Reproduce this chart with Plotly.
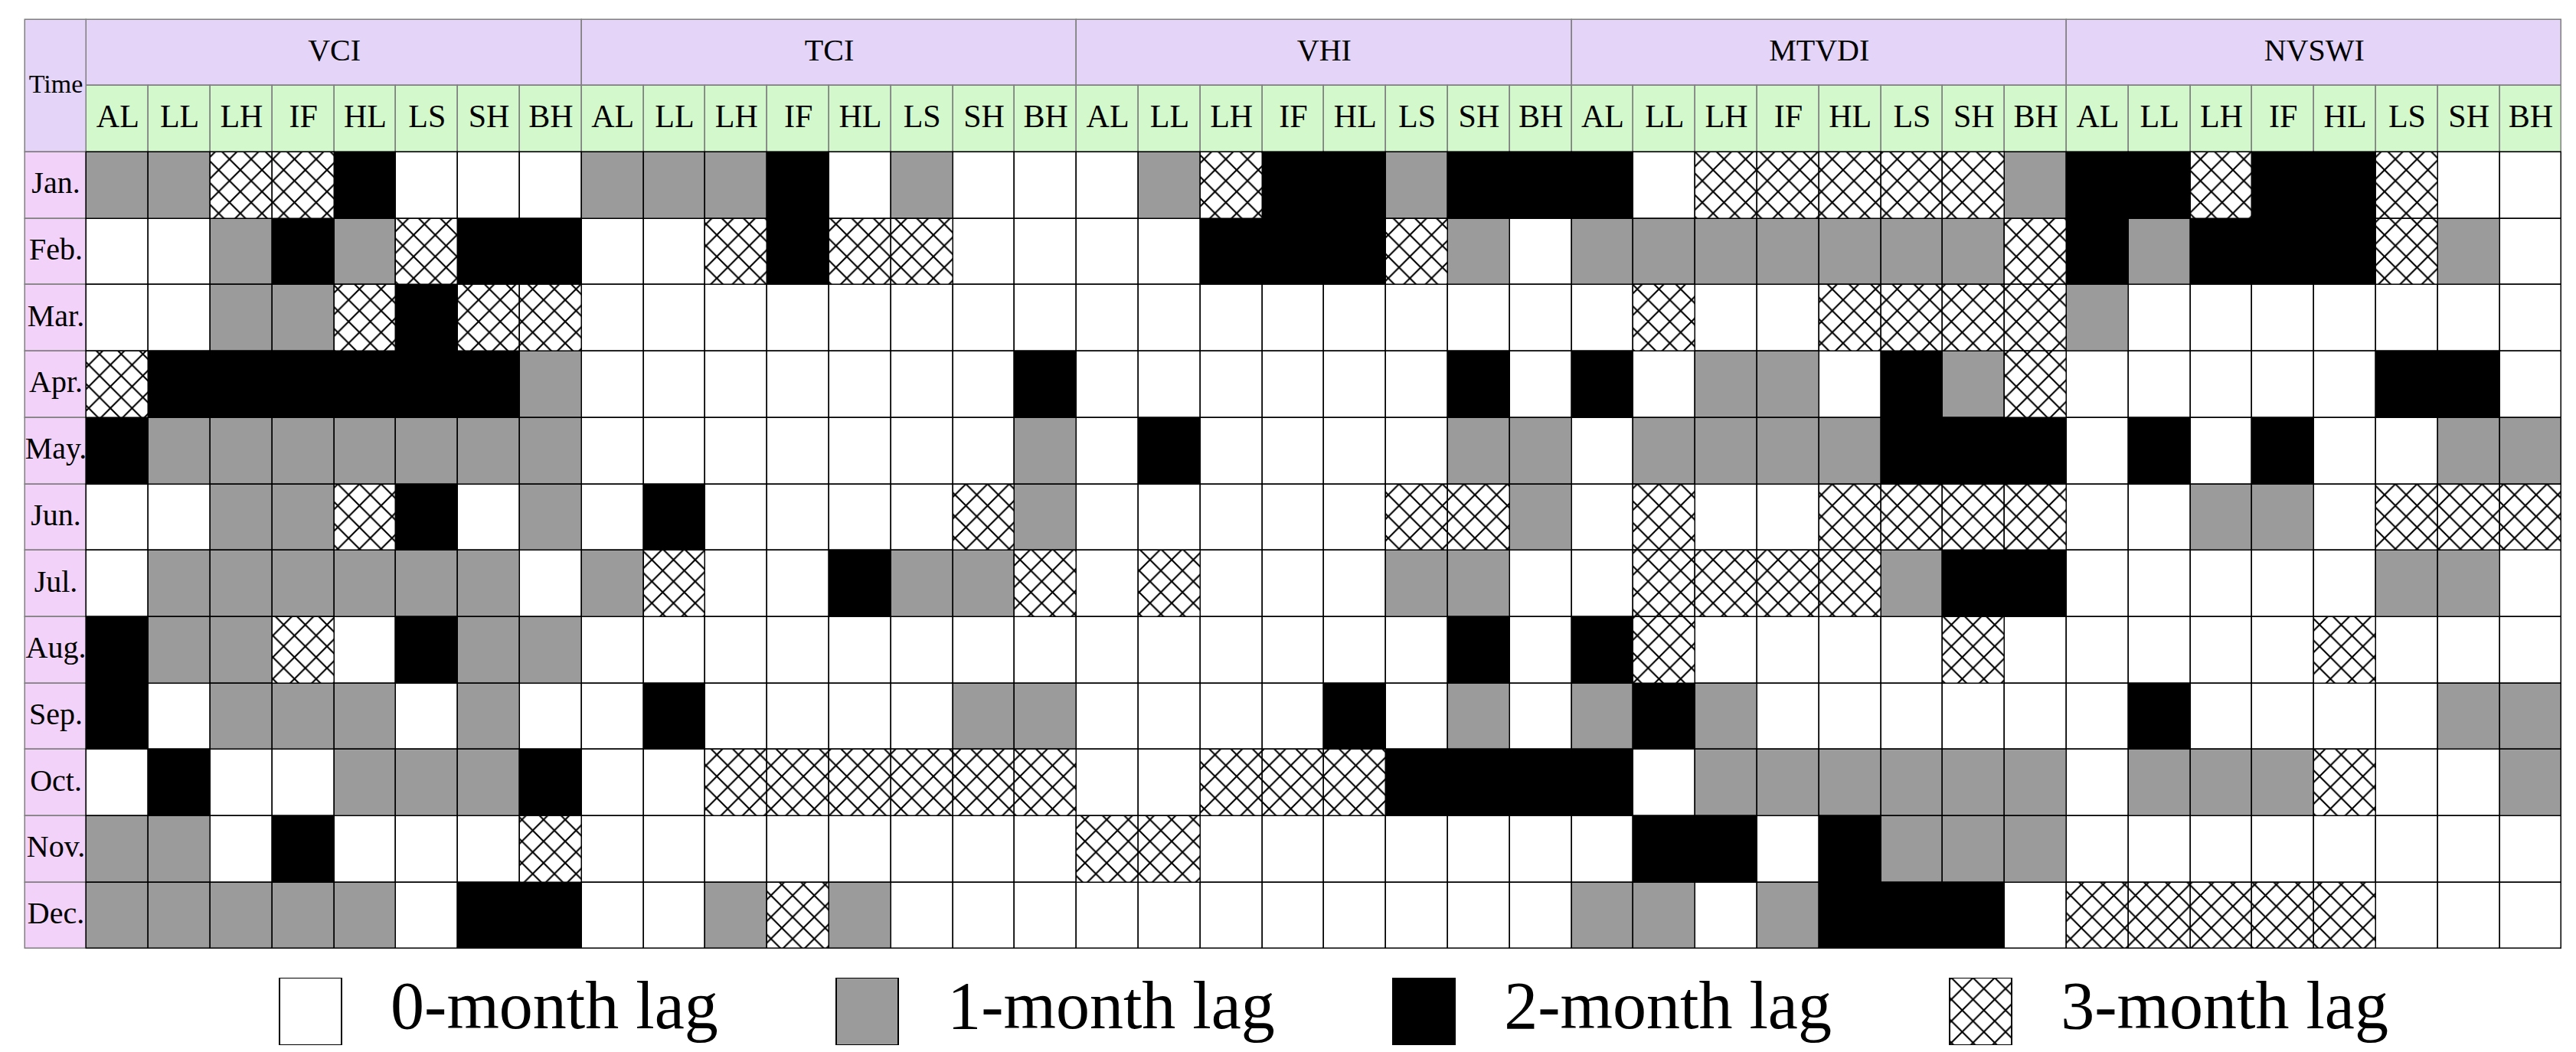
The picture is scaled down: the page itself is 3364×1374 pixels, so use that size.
import plotly.graph_objects as go

# ── Data ─────────────────────────────────────────────────────────
MONTHS = ["Jan.", "Feb.", "Mar.", "Apr.", "May.", "Jun.",
          "Jul.", "Aug.", "Sep.", "Oct.", "Nov.", "Dec."]
REGIONS = ["AL", "LL", "LH", "IF", "HL", "LS", "SH", "BH"]
INDICES = ["VCI", "TCI", "VHI", "MTVDI", "NVSWI"]
LAG_LABELS = ["0-month lag", "1-month lag", "2-month lag", "3-month lag"]

# lag (months) per month row x region column
VCI = [
    [1, 1, 3, 3, 2, 0, 0, 0],
    [0, 0, 1, 2, 1, 3, 2, 2],
    [0, 0, 1, 1, 3, 2, 3, 3],
    [3, 2, 2, 2, 2, 2, 2, 1],
    [2, 1, 1, 1, 1, 1, 1, 1],
    [0, 0, 1, 1, 3, 2, 0, 1],
    [0, 1, 1, 1, 1, 1, 1, 0],
    [2, 1, 1, 3, 0, 2, 1, 1],
    [2, 0, 1, 1, 1, 0, 1, 0],
    [0, 2, 0, 0, 1, 1, 1, 2],
    [1, 1, 0, 2, 0, 0, 0, 3],
    [1, 1, 1, 1, 1, 0, 2, 2],
]
TCI = [
    [1, 1, 1, 2, 0, 1, 0, 0],
    [0, 0, 3, 2, 3, 3, 0, 0],
    [0, 0, 0, 0, 0, 0, 0, 0],
    [0, 0, 0, 0, 0, 0, 0, 2],
    [0, 0, 0, 0, 0, 0, 0, 1],
    [0, 2, 0, 0, 0, 0, 3, 1],
    [1, 3, 0, 0, 2, 1, 1, 3],
    [0, 0, 0, 0, 0, 0, 0, 0],
    [0, 2, 0, 0, 0, 0, 1, 1],
    [0, 0, 3, 3, 3, 3, 3, 3],
    [0, 0, 0, 0, 0, 0, 0, 0],
    [0, 0, 1, 3, 1, 0, 0, 0],
]
VHI = [
    [0, 1, 3, 2, 2, 1, 2, 2],
    [0, 0, 2, 2, 2, 3, 1, 0],
    [0, 0, 0, 0, 0, 0, 0, 0],
    [0, 0, 0, 0, 0, 0, 2, 0],
    [0, 2, 0, 0, 0, 0, 1, 1],
    [0, 0, 0, 0, 0, 3, 3, 1],
    [0, 3, 0, 0, 0, 1, 1, 0],
    [0, 0, 0, 0, 0, 0, 2, 0],
    [0, 0, 0, 0, 2, 0, 1, 0],
    [0, 0, 3, 3, 3, 2, 2, 2],
    [3, 3, 0, 0, 0, 0, 0, 0],
    [0, 0, 0, 0, 0, 0, 0, 0],
]
MTVDI = [
    [2, 0, 3, 3, 3, 3, 3, 1],
    [1, 1, 1, 1, 1, 1, 1, 3],
    [0, 3, 0, 0, 3, 3, 3, 3],
    [2, 0, 1, 1, 0, 2, 1, 3],
    [0, 1, 1, 1, 1, 2, 2, 2],
    [0, 3, 0, 0, 3, 3, 3, 3],
    [0, 3, 3, 3, 3, 1, 2, 2],
    [2, 3, 0, 0, 0, 0, 3, 0],
    [1, 2, 1, 0, 0, 0, 0, 0],
    [2, 0, 1, 1, 1, 1, 1, 1],
    [0, 2, 2, 0, 2, 1, 1, 1],
    [1, 1, 0, 1, 2, 2, 2, 0],
]
NVSWI = [
    [2, 2, 3, 2, 2, 3, 0, 0],
    [2, 1, 2, 2, 2, 3, 1, 0],
    [1, 0, 0, 0, 0, 0, 0, 0],
    [0, 0, 0, 0, 0, 2, 2, 0],
    [0, 2, 0, 2, 0, 0, 1, 1],
    [0, 0, 1, 1, 0, 3, 3, 3],
    [0, 0, 0, 0, 0, 1, 1, 0],
    [0, 0, 0, 0, 3, 0, 0, 0],
    [0, 2, 0, 0, 0, 0, 1, 1],
    [0, 1, 1, 1, 3, 0, 0, 1],
    [0, 0, 0, 0, 0, 0, 0, 0],
    [3, 3, 3, 3, 3, 0, 0, 0],
]
TABLES = [VCI, TCI, VHI, MTVDI, NVSWI]

# ── Style ────────────────────────────────────────────────────────
FONT = "Liberation Serif, Times New Roman, serif"
LAVENDER = "#E3D4F8"
GREEN = "#D3F8CC"
PINK = "#F2D2F8"
HEAD_LINE = "#7F7F7F"
FILL = ["#FFFFFF", "#9B9B9B", "#000000", "#FFFFFF"]
SHAPE = ["", "", "", "x"]
NREG = len(REGIONS)


def _pattern(lag):
    return dict(shape=SHAPE[lag], fgcolor="black", bgcolor="white",
                size=20, solidity=0.2, fillmode="replace")


def _bar(x, base, height, width, color, line_color, line_width=1.5,
         pattern=None, xaxis="x", yaxis="y"):
    marker = dict(color=color, line=dict(color=line_color, width=line_width))
    if pattern:
        marker["pattern"] = pattern
    return go.Bar(x=x, y=[height] * len(x), base=base, width=width,
                  marker=marker, showlegend=False, hoverinfo="skip",
                  xaxis=xaxis, yaxis=yaxis)


def _text(x, y, labels, size, xaxis="x", yaxis="y", pos="middle center"):
    return go.Scatter(x=x, y=y, mode="text", text=labels,
                      textposition=pos,
                      textfont=dict(family=FONT, size=size, color="black"),
                      showlegend=False, hoverinfo="skip",
                      xaxis=xaxis, yaxis=yaxis)


fig = go.Figure()

# Header: index names (row -2), regions (row -1), Time / month column (x = -1)
idx_x = [k * NREG + (NREG - 1) / 2 for k in range(len(INDICES))]
fig.add_trace(_bar(idx_x, [-2.5] * len(INDICES), 1, NREG, LAVENDER, HEAD_LINE))
reg_x = list(range(len(INDICES) * NREG))
fig.add_trace(_bar(reg_x, [-1.5] * len(reg_x), 1, 1, GREEN, HEAD_LINE))
fig.add_trace(_bar([-1], [-2.5], 2, 1, LAVENDER, HEAD_LINE))
fig.add_trace(_bar([-1] * len(MONTHS), [r - 0.5 for r in range(len(MONTHS))],
                   1, 1, PINK, HEAD_LINE))

# Data cells, one trace per lag class
for lag in range(len(LAG_LABELS)):
    xs, bases = [], []
    for k, table in enumerate(TABLES):
        for r, row in enumerate(table):
            for j, v in enumerate(row):
                if v == lag:
                    xs.append(k * NREG + j)
                    bases.append(r - 0.5)
    fig.add_trace(_bar(xs, bases, 1, 1, FILL[lag], "black",
                       pattern=_pattern(lag) if SHAPE[lag] else None))

# Header texts
fig.add_trace(_text(idx_x, [-2] * len(INDICES), INDICES, 40))
fig.add_trace(_text(reg_x, [-1] * len(reg_x), REGIONS * len(INDICES), 42))
fig.add_trace(_text([-1], [-1.5], ["Time"], 34))
fig.add_trace(_text([-1] * len(MONTHS), list(range(len(MONTHS))), MONTHS, 40))

# Legend drawn as its own small subplot
leg_x = list(range(len(LAG_LABELS)))
for i in leg_x:
    fig.add_trace(_bar([i], [0], 1, 0.1114, FILL[i], "black", line_width=2,
                       pattern=_pattern(i) if SHAPE[i] else None,
                       xaxis="x2", yaxis="y2"))
fig.add_trace(_text([i + 0.144 for i in leg_x], [0.5] * len(leg_x), LAG_LABELS,
                    88, xaxis="x2", yaxis="y2", pos="middle right"))

hidden = dict(visible=False, fixedrange=True)
fig.update_layout(
    width=3364, height=1374,
    margin=dict(l=23, r=25, t=16, b=0),
    paper_bgcolor="white", plot_bgcolor="white",
    barmode="overlay", bargap=0,
    hovermode=False,
    xaxis=dict(range=[-1.52, 39.52], domain=[0, 1], **hidden),
    yaxis=dict(range=[11.52, -2.52], domain=[0.1038, 1], **hidden),
    xaxis2=dict(range=[-0.515, 4.046], domain=[0, 1], anchor="y2", **hidden),
    yaxis2=dict(range=[0, 1], domain=[0.0125, 0.0773], anchor="x2", **hidden),
)

fig.write_html("out.html")
